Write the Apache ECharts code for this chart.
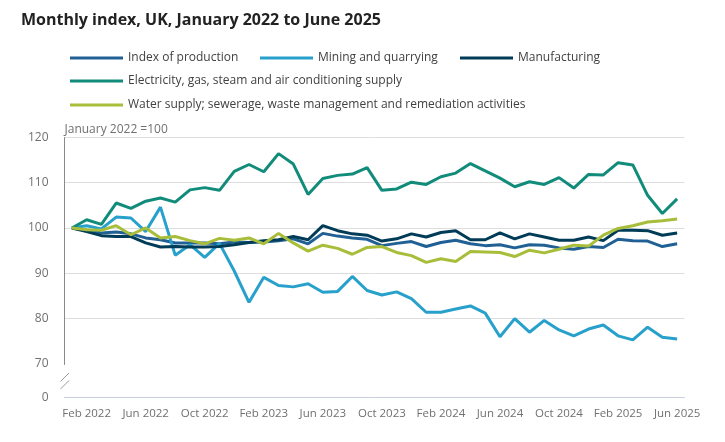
<!DOCTYPE html>
<html>
<head>
<meta charset="utf-8">
<script src="https://cdn.jsdelivr.net/npm/echarts@6/dist/echarts.min.js"></script>
<style>
  html, body { margin: 0; padding: 0; background: #fff; }
  #main { width: 725px; height: 442px; }
</style>
</head>
<body>
<div id="main"></div>
<script>
// months Jan 2022 .. Jun 2025
var monthNames = ['Jan', 'Feb', 'Mar', 'Apr', 'May', 'Jun', 'Jul', 'Aug', 'Sep', 'Oct', 'Nov', 'Dec'];
var months = [];
for (var y = 2022; y <= 2025; y++) {
    for (var m = 0; m < 12; m++) {
        if (y === 2025 && m > 5) break;
        months.push(monthNames[m] + ' ' + y);
    }
}

var production = [100, 99.5, 98.9, 99.1, 98.7, 97.8, 97.4, 96.7, 96.7, 96.7, 96.5, 96.9, 96.8, 96.9, 97.2, 97.6, 96.5, 98.8, 98.2, 97.8, 97.5,
    96.1, 96.6, 97.0, 95.9, 96.8, 97.3, 96.5, 96.1, 96.3, 95.6, 96.3, 96.2, 95.6, 95.3, 95.9, 95.7, 97.5, 97.2, 97.1, 95.9, 96.5];
var mining = [100, 100.5, 99.8, 102.4, 102.2, 99.2, 104.6, 94.0, 96.3, 93.5, 96.6, 90.5, 83.6, 89.1, 87.3, 87.0, 87.7, 85.8, 86.0, 89.3, 86.2,
    85.2, 85.9, 84.4, 81.4, 81.4, 82.1, 82.8, 81.2, 76.0, 80.0, 77.0, 79.6, 77.5, 76.2, 77.7, 78.6, 76.2, 75.3, 78.1, 75.9, 75.5];
var manufacturing = [100, 99.2, 98.3, 98.1, 98.1, 96.7, 95.8, 95.9, 95.8, 95.8, 95.9, 96.3, 96.8, 97.2, 97.4, 98.1, 97.4, 100.5, 99.4, 98.7, 98.4,
    97.1, 97.6, 98.7, 98.0, 99.0, 99.4, 97.4, 97.4, 98.9, 97.6, 98.7, 98.0, 97.3, 97.3, 98.0, 97.2, 99.5, 99.5, 99.4, 98.4, 98.9];
var electricity = [100, 101.8, 100.8, 105.5, 104.3, 105.9, 106.6, 105.7, 108.4, 108.9, 108.3, 112.5, 114.0, 112.4, 116.4, 114.1, 107.4, 110.9, 111.6, 111.9, 113.3,
    108.3, 108.6, 110.1, 109.6, 111.3, 112.1, 114.2, 112.6, 111.0, 109.1, 110.2, 109.6, 111.1, 108.8, 111.8, 111.7, 114.4, 113.9, 107.2, 103.2, 106.4];
var water = [100, 99.6, 99.5, 100.5, 98.5, 100.0, 97.8, 98.1, 97.2, 96.5, 97.7, 97.3, 97.8, 96.5, 98.8, 96.7, 94.9, 96.2, 95.5, 94.2, 95.7,
    95.9, 94.6, 93.9, 92.4, 93.2, 92.6, 94.8, 94.7, 94.6, 93.7, 95.1, 94.5, 95.3, 96.2, 96.0, 98.4, 99.9, 100.5, 101.3, 101.6, 102.0];

var seriesNames = [
    'Index of production',
    'Mining and quarrying',
    'Manufacturing',
    'Electricity, gas, steam and air conditioning supply',
    'Water supply; sewerage, waste management and remediation activities'
];
var seriesData = [production, mining, manufacturing, electricity, water];
var colors = ['#206095', '#27a0cc', '#003c57', '#118c7b', '#a8bd3a'];

var myChart = echarts.init(document.getElementById('main'));

var font = 'Open Sans';
var textGrey = '#707071';

// one legend per item so the rows sit where the original has them
var legendPos = [[65, 47], [255, 47], [455, 47], [65, 70], [65, 94]];
var legends = seriesNames.map(function (name, i) {
    return {
        data: [name],
        left: legendPos[i][0],
        top: legendPos[i][1],
        icon: 'rect',
        itemWidth: 53,
        itemHeight: 3,
        selectedMode: false,
        textStyle: { color: '#414042', fontSize: 12, fontFamily: font }
    };
});

option = {
    color: colors,
    animation: false,
    title: {
        text: 'Monthly index, UK, January 2022 to June 2025',
        left: 16,
        top: 7,
        textStyle: { fontFamily: font, fontSize: 16, fontWeight: 'bold', color: '#222222' }
    },
    legend: legends,
    grid: {
        left: 64.5,
        right: 40.5,
        top: 137.3,
        bottom: 44.5,
        outerBoundsMode: 'none'
    },
    xAxis: {
        type: 'category',
        data: months,
        boundaryGap: true,
        axisLine: { lineStyle: { color: '#c9cedf', width: 1 } },
        axisTick: {
            alignWithLabel: true,
            length: 8,
            interval: function (i) { return i % 4 === 1; },
            lineStyle: { color: '#c9cedf' }
        },
        axisLabel: {
            interval: function (i) { return i % 4 === 1; },
            color: textGrey,
            fontFamily: font,
            fontSize: 11.5,
            margin: 10
        },
        splitLine: { show: false }
    },
    yAxis: {
        type: 'value',
        min: 0,
        max: 120,
        interval: 10,
        name: 'January 2022 =100',
        nameLocation: 'end',
        nameGap: 2,
        nameTextStyle: {
            align: 'left',
            verticalAlign: 'bottom',
            color: textGrey,
            fontFamily: font,
            fontSize: 12
        },
        breaks: [{ start: 0, end: 70, gap: '12.9%' }],
        breakArea: { show: false },
        axisLine: { show: true, lineStyle: { color: '#8a8a8a', width: 1 } },
        axisTick: { show: false },
        axisLabel: { color: textGrey, fontFamily: font, fontSize: 12, margin: 16 },
        splitLine: { lineStyle: { color: '#dedede', width: 1 } }
    },
    graphic: [
        { type: 'rect', shape: { x: 58, y: 376, width: 13, height: 9 }, style: { fill: '#fff' }, z: 100 },
        { type: 'line', shape: { x1: 60.5, y1: 381.5, x2: 69, y2: 373 }, style: { stroke: '#9a9a9a', lineWidth: 1 }, z: 101 },
        { type: 'line', shape: { x1: 60.5, y1: 389, x2: 69, y2: 380.5 }, style: { stroke: '#9a9a9a', lineWidth: 1 }, z: 101 }
    ],
    series: seriesNames.map(function (name, i) {
        return {
            name: name,
            type: 'line',
            data: seriesData[i],
            showSymbol: false,
            symbol: 'none',
            lineStyle: { width: 3, color: colors[i] },
            itemStyle: { color: colors[i] }
        };
    })
};

myChart.setOption(option);
</script>
</body>
</html>
